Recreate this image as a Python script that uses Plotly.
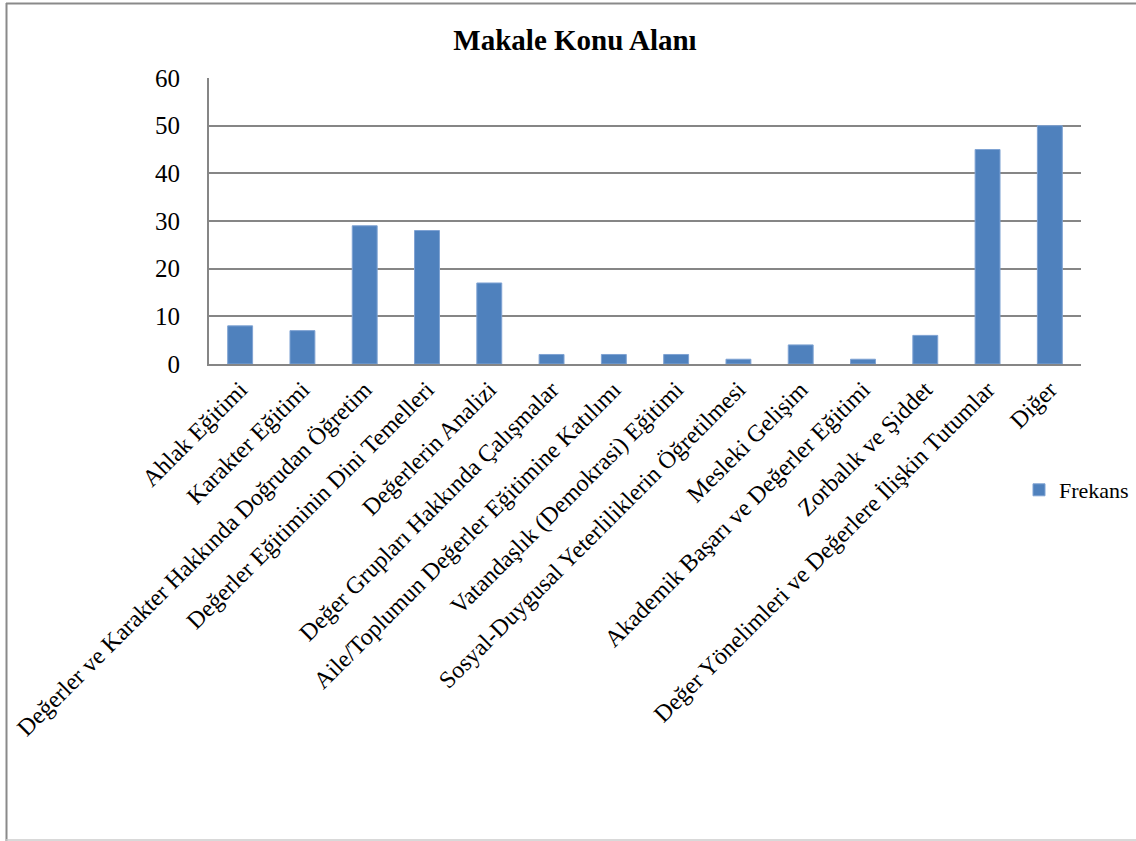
import plotly.graph_objects as go

categories = [
    "Ahlak Eğitimi",
    "Karakter Eğitimi",
    "Değerler ve Karakter Hakkında Doğrudan Öğretim",
    "Değerler Eğitiminin Dini Temelleri",
    "Değerlerin Analizi",
    "Değer Grupları Hakkında Çalışmalar",
    "Aile/Toplumun Değerler Eğitimine Katılımı",
    "Vatandaşlık (Demokrasi) Eğitimi",
    "Sosyal-Duygusal Yeterliliklerin Öğretilmesi",
    "Mesleki Gelişim",
    "Akademik Başarı ve Değerler Eğitimi",
    "Zorbalık ve Şiddet",
    "Değer Yönelimleri ve Değerlere İlişkin Tutumlar",
    "Diğer",
]
frekans = [8, 7, 29, 28, 17, 2, 2, 2, 1, 4, 1, 6, 45, 50]
y_ticks = [0, 10, 20, 30, 40, 50, 60]

FONT = "Liberation Serif, Times New Roman, serif"

# plot area in pixels: left 209, right 1081, top 78, bottom 364
PW, PH = 872, 286


def px_x(p):
    return (p - 209) / PW


def px_y(p):
    return (364 - p) / PH


fig = go.Figure()
fig.add_trace(go.Bar(
    x=categories, y=frekans, name="Frekans",
    marker=dict(color="#4F81BD", line=dict(color="#7FA3D3", width=1)),
))

fig.update_layout(
    width=1136, height=841,
    paper_bgcolor="white", plot_bgcolor="white",
    margin=dict(l=209, r=55, t=78, b=477, autoexpand=False),
    title=dict(text="<b>Makale Konu Alanı</b>", xref="container", x=575 / 1136, xanchor="center",
               y=1 - 40 / 841, yanchor="middle",
               font=dict(family=FONT, size=29, color="black")),
    font=dict(family=FONT, color="black"),
    bargap=0.6,
    showlegend=True,
    legend=dict(x=px_x(1019), y=px_y(490), xanchor="left", yanchor="middle",
                font=dict(family=FONT, size=22, color="black"),
                bgcolor="rgba(0,0,0,0)", borderwidth=0),
    xaxis=dict(tickangle=-45, tickfont=dict(family=FONT, size=24, color="black"),
               showline=True, linecolor="#868686", linewidth=2, showgrid=False,
               ticks="", automargin=False),
    yaxis=dict(range=[0, 60], tickvals=y_ticks, tickfont=dict(family=FONT, size=25, color="black"),
               showline=True, linecolor="#868686", linewidth=2,
               showgrid=True, gridcolor="#868686", gridwidth=2, zeroline=False,
               ticks="", ticklabelstandoff=22, automargin=False),
    shapes=[
        dict(type="line", xref="paper", yref="paper",
             x0=px_x(6), x1=px_x(1140), y0=px_y(3.5), y1=px_y(3.5),
             line=dict(color="#8a8a8a", width=2)),
        dict(type="line", xref="paper", yref="paper",
             x0=px_x(6.5), x1=px_x(6.5), y0=px_y(3), y1=px_y(841),
             line=dict(color="#8a8a8a", width=2)),
        dict(type="line", xref="paper", yref="paper",
             x0=px_x(6), x1=px_x(1140), y0=px_y(840), y1=px_y(840),
             line=dict(color="#cccccc", width=1.5)),
    ],
)

fig.write_html("out.html", config={"displayModeBar": False},
               post_script="document.body.style.margin='0';")
